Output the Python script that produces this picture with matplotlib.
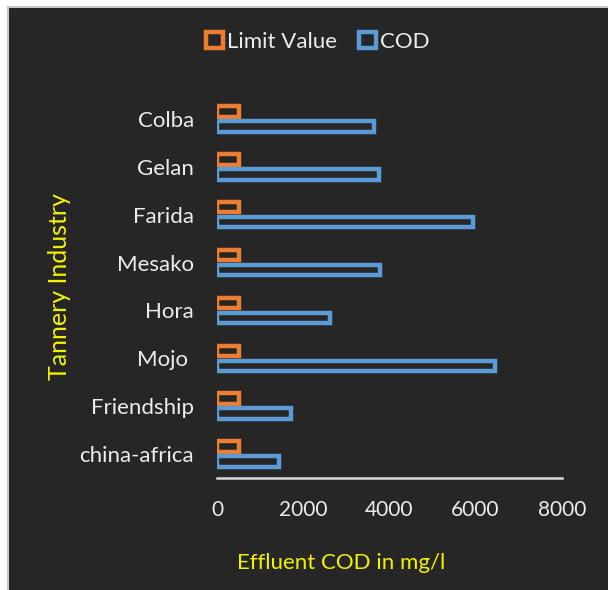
import matplotlib.pyplot as plt
from matplotlib.patches import Rectangle, Patch
import numpy as np

# data (bottom to top)
industries = ['china-africa', 'Friendship', 'Mojo ', 'Hora', 'Mesako', 'Farida', 'Gelan', 'Colba']
cod = [1430, 1710, 6450, 2620, 3780, 5950, 3750, 3650]
limit = [500, 500, 500, 500, 500, 500, 500, 500]
xticks = [0, 2000, 4000, 6000, 8000]

bg = '#262626'
orange = '#ED7D31'
blue = '#5B9BD5'
yellow = '#F2F200'
txt = '#ececec'

plt.rcParams['font.family'] = ['Lato', 'DejaVu Sans']

fig = plt.figure(figsize=(6.08, 5.90), dpi=100)
fig.patch.set_facecolor('white')
# dark chart area with thin grey border
fig.patches.append(Rectangle((7.5 / 608, -0.05), 1.1, 1 - 6.5 / 590 + 0.05,
                             transform=fig.transFigure, facecolor=bg,
                             edgecolor='#c8c8c8', linewidth=1.5, zorder=-10))

ax = fig.add_axes([217 / 608, 1 - 478 / 590, (561.7 - 217) / 608, (478 - 95) / 590])
ax.set_facecolor('none')

y = np.arange(len(industries))
off = 0.156
h = 0.22
ax.barh(y + off, limit, height=h, facecolor=bg, edgecolor=orange, linewidth=3.2)
ax.barh(y - off, cod, height=h, facecolor=bg, edgecolor=blue, linewidth=3.2)

ax.set_xlim(0, 8000)
ax.set_ylim(-0.5, len(industries) - 0.5)
ax.set_xticks(xticks)
ax.set_xticklabels([str(v) for v in xticks], fontsize=15, color=txt)
ax.set_yticks(y)
ax.set_yticklabels(industries, fontsize=16, color=txt)
ax.tick_params(axis='both', length=0)
ax.tick_params(axis='x', pad=15.5)
ax.tick_params(axis='y', pad=16.5)

for s in ['top', 'right', 'left']:
    ax.spines[s].set_visible(False)
ax.spines['bottom'].set_color('#d9d9d9')
ax.spines['bottom'].set_linewidth(1.8)

fig.text(59.5 / 608, 1 - 287 / 590, 'Tannery Industry', rotation=90,
         ha='center', va='center', fontsize=18, color=yellow)
fig.text(341 / 608, 1 - 563 / 590, 'Effluent COD in mg/l',
         ha='center', va='center', fontsize=16, color=yellow)

handles = [Patch(facecolor=bg, edgecolor=orange, linewidth=3.2, label='Limit Value'),
           Patch(facecolor=bg, edgecolor=blue, linewidth=3.2, label='COD')]
leg = fig.legend(handles=handles, loc='center', bbox_to_anchor=(318 / 608, 1 - 42 / 590),
                 ncol=2, frameon=False, fontsize=16, handlelength=0.75, handleheight=0.75,
                 handletextpad=0.2, columnspacing=1.0)
for t in leg.get_texts():
    t.set_color(txt)

fig.savefig('out.png', dpi=100, facecolor=fig.get_facecolor())
